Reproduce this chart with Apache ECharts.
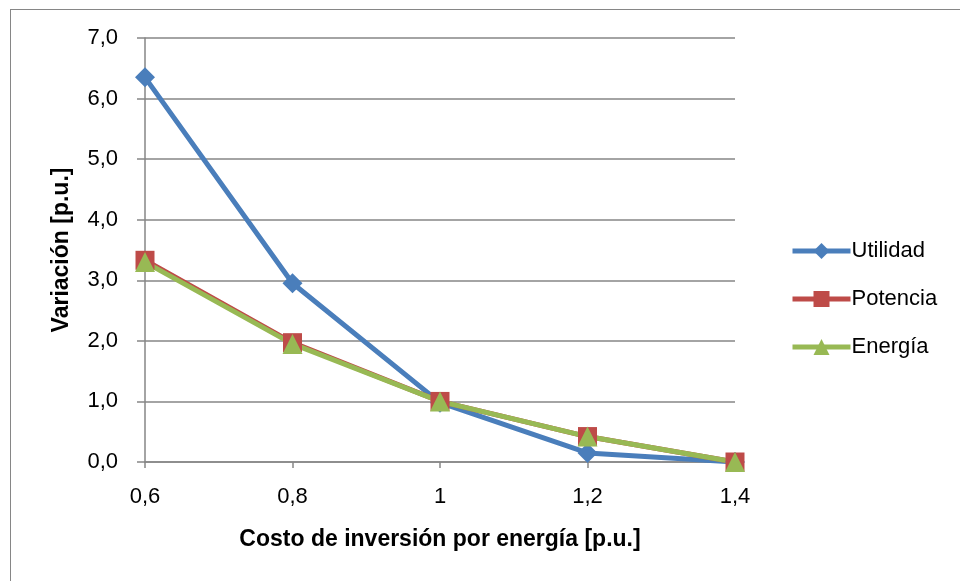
<!DOCTYPE html>
<html><head><meta charset="utf-8">
<style>html,body{margin:0;padding:0;background:#fff}#c{width:960px;height:581px;position:relative}
#b{position:absolute;left:10px;top:9px;width:960px;height:600px;border:1.5px solid #868686;box-sizing:border-box;pointer-events:none}</style>
<script src="https://cdn.jsdelivr.net/npm/echarts@6/dist/echarts.min.js"></script>
</head><body><div id="c"></div><div id="b"></div>
<script>
const categories = ["0,6", "0,8", "1", "1,2", "1,4"];
const utilidad = [6.35, 2.95, 0.98, 0.15, 0.0];
const potencia = [3.33, 1.97, 1.0, 0.42, 0.0];
const energia = [3.30, 1.95, 1.0, 0.42, 0.0];
const yTicks = [0, 1, 2, 3, 4, 5, 6, 7];

const font = '"Liberation Sans", Arial, sans-serif';
const fs = 22;
const fsName = 23;
const chart = echarts.init(document.getElementById('c'), null, {renderer: 'canvas'});
function s(name, data, color, symbol, size) {
  return {name, type: 'line', data, symbol, symbolSize: size, color,
    lineStyle: {width: 5, color}, itemStyle: {color}, animation: false};
}
chart.setOption({
  animation: false,
  grid: {left: 145, right: 225, top: 38, bottom: 119},
  textStyle: {fontFamily: font},
  legend: {
    orient: 'vertical', left: 790, top: 240, padding: 0, itemGap: 26, itemWidth: 58, itemHeight: 20,
    lineStyle: {width: 5},
    textStyle: {fontFamily: font, fontSize: fs, color: '#000', padding: [0, 0, 0, -4]},
    data: ['Utilidad', 'Potencia', 'Energía']
  },
  xAxis: {
    type: 'category', data: categories, boundaryGap: false,
    name: 'Costo de inversión por energía [p.u.]', nameLocation: 'middle', nameGap: 66,
    nameTextStyle: {fontFamily: font, fontSize: fsName, fontWeight: 'bold', color: '#000'},
    axisLine: {lineStyle: {color: '#868686', width: 1.5}},
    axisTick: {length: 6, alignWithLabel: true, lineStyle: {color: '#868686', width: 1.5}},
    axisLabel: {fontFamily: font, fontSize: fs, color: '#000', margin: 24},
    splitLine: {show: false}
  },
  yAxis: {
    type: 'value', min: yTicks[0], max: yTicks[yTicks.length - 1], interval: 1,
    name: 'Variación [p.u.]', nameLocation: 'middle', nameGap: 72,
    nameTextStyle: {fontFamily: font, fontSize: fsName, fontWeight: 'bold', color: '#000'},
    axisLine: {show: true, lineStyle: {color: '#868686', width: 1.5}},
    axisTick: {show: true, length: 8, lineStyle: {color: '#868686', width: 1.5}},
    axisLabel: {fontFamily: font, fontSize: fs, color: '#000', margin: 27,
      formatter: v => v.toFixed(1).replace('.', ',')},
    splitLine: {show: true, lineStyle: {color: '#868686', width: 1.5}}
  },
  series: [
    s('Utilidad', utilidad, '#4A7EBB', 'diamond', 20),
    s('Potencia', potencia, '#BE4B48', 'rect', 19),
    s('Energía', energia, '#98B954', 'triangle', 20)
  ]
});
</script></body></html>
